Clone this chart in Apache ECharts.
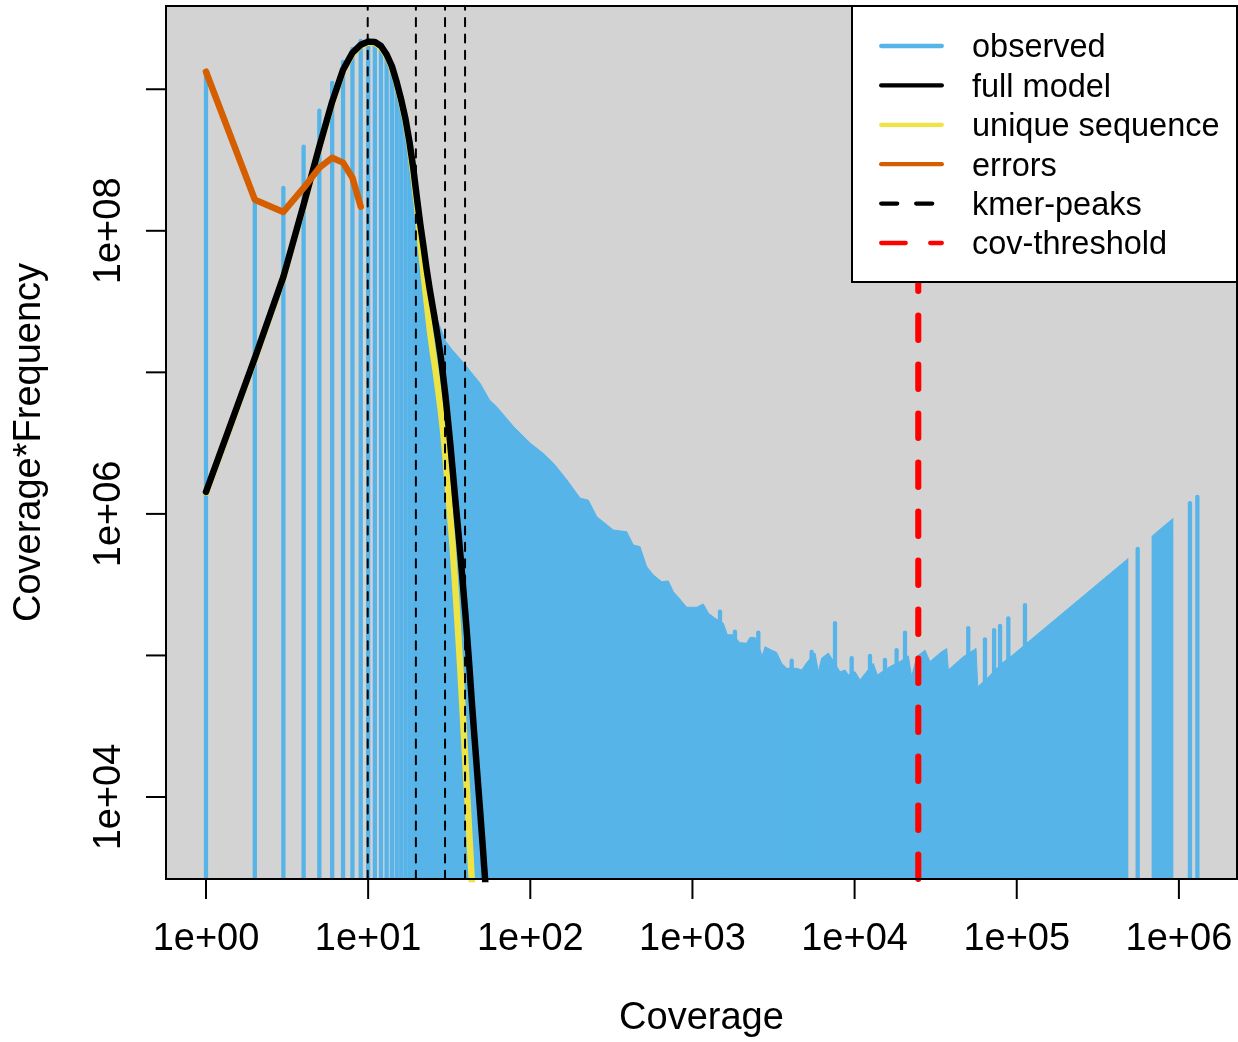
<!DOCTYPE html>
<html>
<head>
<meta charset="utf-8">
<script src="https://cdn.jsdelivr.net/npm/echarts@6/dist/echarts.min.js"></script>
<style>
html,body{margin:0;padding:0;background:#ffffff;}
#chart{width:1238px;height:1042px;}
</style>
</head>
<body>
<div id="chart"></div>
<script>
// ---------------- data ----------------
// observed histogram: separate vertical lines at low coverage
const obsBarCoverage = [1,2,3,4,5,6,7,8,9,10,11,12,13,14,15,16,17,18,19,20,21,22,23,24,25,26];
const obsBarValues = [1.31e9,1.63e8,2.01e8,3.93e8,7.05e8,1.11e9,1.56e9,1.93e9,2.20e9,2.24e9,2.16e9,2.00e9,1.74e9,1.43e9,1.10e9,8.13e8,5.89e8,4.07e8,2.69e8,1.70e8,1.10e8,7.41e7,5.25e7,3.89e7,3.02e7,2.51e7];
// observed histogram: isolated spikes / single coverages
const obsSpikeCoverage = [1479,1829,2548,4093,5436,7570,9590,12440,15390,18160,20460,50230,63680,72500,78900,88720,112400,557000,1170000,1300000];
const obsSpikeValues = [2.04e5,1.47e5,1.45e5,9.18e4,1.06e5,1.69e5,9.55e4,9.93e4,9.29e4,1.09e5,1.45e5,1.56e5,1.30e5,1.51e5,1.62e5,1.83e5,2.27e5,5.65e5,1.19e6,1.32e6];
// observed histogram: dense part (envelope of the packed lines)
const obsFillCoverage = [26,27,30,33,39,42,49,56,62,79,100,120,139,168,203,228,257,325,393,432,475,522,574,646,710,762,818,921,1061,1167,1253,1377,1550,1641,1771,1963,2159,2263,2430,2698,2802,3079,3306,3550,3812,4395,4719,5063,5700,5975,6265,6885,8128,8730,9150,10060,10800,13040,13800,16520,19050,21450,22480,24150,27180,29170,33640,36990,37850,46800,56080,57460,65790,80780,91770,115200,487600];
const obsFillValues = [2.51e7,2.28e7,1.66e7,1.44e7,1.16e7,1.04e7,8.38e6,6.38e6,5.71e6,4.13e6,3.16e6,2.68e6,2.28e6,1.74e6,1.29e6,1.25e6,9.55e5,7.69e5,7.48e5,6.03e5,5.86e5,4.24e5,3.70e5,3.32e5,3.36e5,2.82e5,2.58e5,2.19e5,2.19e5,2.31e5,1.99e5,1.83e5,1.69e5,1.40e5,1.40e5,1.23e5,1.22e5,1.34e5,1.34e5,9.93e4,1.15e5,1.09e5,1.05e5,8.79e4,8.11e4,8.11e4,7.89e4,8.89e4,1.04e5,7.67e4,9.55e4,1.04e5,7.67e4,7.89e4,7.28e4,7.67e4,6.71e4,8.79e4,7.28e4,8.34e4,9.04e4,9.93e4,7.08e4,9.79e4,1.09e5,9.04e4,1.04e5,1.12e5,7.89e4,9.79e4,1.12e5,6.01e4,6.90e4,8.79e4,9.79e4,1.22e5,4.85e5];
const obsFill2Coverage = [679000,722000,924000];
const obsFill2Values = [6.90e5,7.36e5,9.31e5];

const modelCoverage = [1,2,3,4,5,6,7,8,9,10,11,12,13,14,15,16,17,18,19,20,21,22,23,24,25,26,27,28,29,30,31,32,33,34,35,36,37,38,39,40,41,42,43,44,45,46,47,48,49,50,51,52,53,54,55,56];
const modelValues = [1.43e6,1.26e7,4.73e7,1.53e8,3.93e8,8.17e8,1.37e9,1.81e9,2.06e9,2.17e9,2.16e9,2.02e9,1.76e9,1.46e9,1.12e9,8.41e8,6.17e8,4.22e8,2.75e8,1.70e8,1.10e8,7.59e7,5.25e7,3.83e7,2.92e7,2.24e7,1.72e7,1.30e7,9.44e6,6.76e6,4.68e6,3.24e6,2.21e6,1.51e6,1.05e6,7.41e5,5.25e5,3.67e5,2.57e5,1.82e5,1.26e5,8.71e4,5.89e4,4.07e4,2.88e4,2.09e4,1.51e4,1.10e4,8.13e3,5.89e3,4.37e3,3.16e3,2.34e3,1.74e3,1.29e3,955];

const uniqueCoverage = [1,2,3,4,5,6,7,8,9,10,11,12,13,14,15,16,17,18,19,20,21,22,23,24,25,26,27,28,29,30,31,32,33,34,35,36,37,38,39,40,41,42,43,44,45,46];
const uniqueValues = [1.41e6,1.24e7,4.66e7,1.51e8,3.88e8,8.05e8,1.35e9,1.78e9,2.03e9,2.14e9,2.13e9,1.98e9,1.73e9,1.43e9,1.10e9,8.20e8,5.99e8,4.04e8,2.51e8,1.51e8,8.32e7,4.90e7,3.09e7,2.00e7,1.41e7,1.05e7,7.59e6,5.50e6,3.85e6,2.51e6,1.58e6,1.00e6,6.46e5,3.89e5,2.34e5,1.38e5,8.13e4,4.68e4,2.69e4,1.58e4,9.33e3,5.62e3,3.39e3,2.09e3,1.32e3,851];

const errorsCoverage = [1,2,3,4,5,6,7,8,9];
const errorsValues = [1.33e9,1.66e8,1.36e8,2.01e8,2.79e8,3.28e8,3.03e8,2.37e8,1.48e8];

const kmerPeaks = [9.94,19.7,29.8,39.6];
const covThreshold = 24700;

const xTickValues = [1,10,100,1000,10000,100000,1000000];
const xTickLabels = ['1e+00','1e+01','1e+02','1e+03','1e+04','1e+05','1e+06'];
const yTickValues = [1e4,1e5,1e6,1e7,1e8,1e9];
const yTickLabels = ['1e+04','','1e+06','','1e+08',''];

const legendNames = ['observed','full model','unique sequence','errors','kmer-peaks','cov-threshold'];
const legendColors = ['#56B4E9','#000000','#F0E442','#D55E00','#000000','#FF0000'];
const legendDashes = [null,null,null,null,[16,19],[24.5,24.5]];

// ---------------- layout / style ----------------
const FONT = '"Liberation Sans", Arial, Helvetica, sans-serif';
const BLUE = '#56B4E9';
const xMin = 0.5667, xMax = 2.282e6;
const yMin = 2634, yMax = 3.874e9;
const G = {left:166, top:6, right:1237, bottom:879};

function pairs(xs, ys){ return xs.map((x,i)=>[x, ys[i]]); }
function labelFor(values, labels, v){
  for (let i=0;i<values.length;i++){
    if (Math.abs(Math.log10(v) - Math.log10(values[i])) < 1e-6) return labels[i];
  }
  return '';
}

const chart = echarts.init(document.getElementById('chart'), null, {renderer:'canvas'});

function renderBar(params, api){
  const x = api.value(0), y = api.value(1);
  const top = api.coord([x, y]);
  const bot = api.coord([x, yMin]);
  return {type:'line', shape:{x1:top[0], y1:top[1], x2:bot[0], y2:bot[1]+6},
          style:{stroke:BLUE, lineWidth:4.3, lineCap:'round'}};
}
function renderXTick(params, api){
  const p = api.coord([api.value(0), yMin]);
  return {type:'line', shape:{x1:p[0], y1:p[1], x2:p[0], y2:p[1]+20},
          style:{stroke:'#000', lineWidth:2}};
}
function renderYTick(params, api){
  const p = api.coord([xMin, api.value(1)]);
  return {type:'line', shape:{x1:p[0]-20, y1:p[1], x2:p[0], y2:p[1]},
          style:{stroke:'#000', lineWidth:2}};
}

const series = [];
series.push({type:'line', name:'observed', data:pairs(obsFillCoverage, obsFillValues), symbol:'none', showSymbol:false,
  lineStyle:{color:BLUE, width:1}, areaStyle:{color:BLUE, opacity:1, origin:'start'}, silent:true, clip:true, z:2});
series.push({type:'line', name:'observed', data:pairs(obsFill2Coverage, obsFill2Values), symbol:'none', showSymbol:false,
  lineStyle:{color:BLUE, width:1}, areaStyle:{color:BLUE, opacity:1, origin:'start'}, silent:true, clip:true, z:2});
series.push({type:'custom', name:'observed', renderItem:renderBar, encode:{x:0,y:1},
  data:pairs(obsBarCoverage, obsBarValues).concat(pairs(obsSpikeCoverage, obsSpikeValues)), clip:true, silent:true, z:2});
series.push({type:'line', name:'unique sequence', data:pairs(uniqueCoverage, uniqueValues), symbol:'none', showSymbol:false,
  lineStyle:{color:'#F0E442', width:6.5, cap:'round', join:'round'}, silent:true, clip:true, z:3});
series.push({type:'line', name:'full model', data:pairs(modelCoverage, modelValues), symbol:'none', showSymbol:false,
  lineStyle:{color:'#000000', width:6.5, cap:'round', join:'round'}, silent:true, clip:true, z:3});
series.push({type:'line', name:'errors', data:pairs(errorsCoverage, errorsValues), symbol:'none', showSymbol:false,
  lineStyle:{color:'#D55E00', width:6.5, cap:'round', join:'round'}, silent:true, clip:true, z:3});
kmerPeaks.forEach(v => {
  series.push({type:'line', name:'kmer-peaks', data:[[v, yMin],[v, yMax]], symbol:'none', showSymbol:false,
    lineStyle:{color:'#000000', width:2, type:[8.2,8.2], cap:'round'}, silent:true, clip:true, z:4});
});
series.push({type:'line', name:'cov-threshold', data:[[covThreshold, yMin],[covThreshold, yMax]], symbol:'none', showSymbol:false,
  lineStyle:{color:'#FF0000', width:6.1, type:[24.5,24.5], cap:'round'}, silent:true, clip:true, z:4});
series.push({type:'custom', name:'xticks', renderItem:renderXTick, encode:{x:0,y:1},
  data:xTickValues.map(v=>[v, yMin]), clip:false, silent:true, z:5});
series.push({type:'custom', name:'yticks', renderItem:renderYTick, encode:{x:0,y:1},
  data:yTickValues.map(v=>[xMin, v]), clip:false, silent:true, z:5});

// legend (drawn like R's legend box)
const legendBox = {x:852, y:6, w:385, h:276, lineX1:881.2, lineX2:941.8, textX:972, row0:46, rowStep:39.4, textShift:2.5};
const graphics = [
  {type:'rect', shape:{x:G.left, y:G.top, width:G.right-G.left, height:G.bottom-G.top},
   style:{fill:'none', stroke:'#000', lineWidth:2}, z:90, silent:true},
  {type:'rect', shape:{x:legendBox.x, y:legendBox.y, width:legendBox.w, height:legendBox.h},
   style:{fill:'#ffffff', stroke:'#000', lineWidth:2}, z:100, silent:true}
];
legendNames.forEach((name, i) => {
  const yy = legendBox.row0 + i*legendBox.rowStep;
  const st = {stroke:legendColors[i], lineWidth:4.3, lineCap:'round'};
  if (legendDashes[i]) st.lineDash = legendDashes[i];
  graphics.push({type:'line', shape:{x1:legendBox.lineX1, y1:yy, x2:legendBox.lineX2, y2:yy}, style:st, z:101, silent:true});
  graphics.push({type:'text', x:legendBox.textX, y:yy + legendBox.textShift, style:{text:name, fill:'#000', font:'32.5px ' + FONT,
    fontSize:32.5, fontFamily:FONT, verticalAlign:'middle', align:'left'}, z:101, silent:true});
});

chart.setOption({
  animation:false,
  backgroundColor:'#ffffff',
  grid:{left:G.left, top:G.top, right:1238-G.right, bottom:1042-G.bottom, containLabel:false, outerBoundsMode:'none',
        show:true, backgroundColor:'#D3D3D3', borderWidth:0},
  xAxis:{type:'log', logBase:10, min:xMin, max:xMax,
    axisLine:{show:false}, axisTick:{show:false}, splitLine:{show:false}, minorTick:{show:false},
    axisLabel:{show:true, margin:42, fontSize:38, fontFamily:FONT, color:'#000',
      formatter:(v)=>labelFor(xTickValues, xTickLabels, v)},
    name:'Coverage', nameLocation:'middle', nameGap:121,
    nameTextStyle:{fontSize:38, fontFamily:FONT, color:'#000'}},
  yAxis:{type:'log', logBase:10, min:yMin, max:yMax,
    axisLine:{show:false}, axisTick:{show:false}, splitLine:{show:false}, minorTick:{show:false},
    axisLabel:{show:true, rotate:90, margin:37, fontSize:38, fontFamily:FONT, color:'#000',
      formatter:(v)=>labelFor(yTickValues, yTickLabels, v)},
    name:'Coverage*Frequency', nameLocation:'middle', nameGap:117, nameRotate:90,
    nameTextStyle:{fontSize:38, fontFamily:FONT, color:'#000'}},
  series:series,
  graphic:{elements:graphics}
});
</script>
</body>
</html>
